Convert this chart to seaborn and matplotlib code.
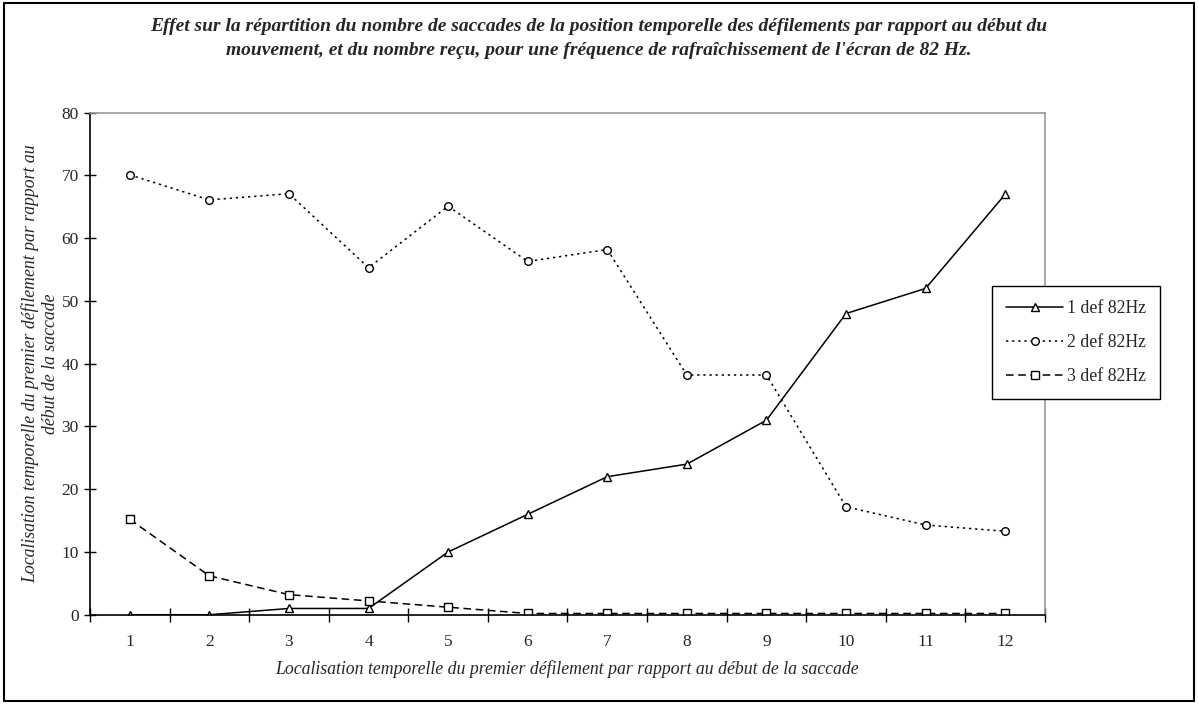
"""
Saccade distribution vs temporal position of the first scroll (82 Hz)
"""

import numpy as np
import pandas as pd
import matplotlib
matplotlib.use("Agg")
import matplotlib.pyplot as plt
from matplotlib.patches import Rectangle
import seaborn as sns

# Data
positions = list(range(1, 13))
one_def = [0, 0, 1, 1, 10, 16, 22, 24, 31, 48, 52, 67]
two_def = [70.1, 66.1, 67.1, 55.3, 65.1, 56.3, 58.2, 38.2, 38.2, 17.2, 14.3, 13.3]
three_def = [15.2, 6.2, 3.2, 2.2, 1.2, 0.2, 0.2, 0.2, 0.2, 0.2, 0.2, 0.2]
series_names = ['1 def 82Hz', '2 def 82Hz', '3 def 82Hz']

title = ("Effet sur la répartition du nombre de saccades de la position temporelle des défilements par rapport au début du\n"
         "mouvement, et du nombre reçu, pour une fréquence de rafraîchissement de l'écran de 82 Hz.")
xlabel = "Localisation temporelle du premier défilement par rapport au début de la saccade"
ylabel = "Localisation temporelle du premier défilement par rapport au\ndébut de la saccade"

sns.set_style("white")
plt.rcParams['font.family'] = ['Liberation Serif', 'DejaVu Serif']

fig = plt.figure(figsize=(11.98, 7.04), dpi=100)
ax = fig.add_axes([0.0751, 0.1268, 0.7972, 0.7131])

styles = [
    dict(linestyle='-', marker='^'),
    dict(linestyle=(0, (1.5, 2.5)), marker='o'),
    dict(linestyle=(0, (5, 3)), marker='s'),
]
for name, values, st in zip(series_names, [one_def, two_def, three_def], styles):
    df = pd.DataFrame({'x': positions, 'y': values})
    sns.lineplot(data=df, x='x', y='y', ax=ax, color='black', linewidth=1.1,
                 markersize=5.5, markerfacecolor='white', markeredgecolor='black',
                 markeredgewidth=1, label=name, **st)

ax.set_xlim(0.5, 12.5)
ax.set_ylim(0, 80)
ax.set_yticks(np.arange(0, 81, 10))
ax.set_xticks(positions)
ax.set_xticks(np.arange(0.5, 12.6, 1), minor=True)
ax.tick_params(axis='x', which='major', bottom=False, length=0, pad=14, labelsize=12.5)
ax.tick_params(axis='x', which='minor', bottom=True, direction='inout', length=10,
               width=1, color='black')
ax.tick_params(axis='y', left=True, direction='inout', length=8, width=1,
               color='black', labelsize=12.5, pad=4)

for side in ['left', 'bottom']:
    ax.spines[side].set_color('black')
    ax.spines[side].set_linewidth(1.2)
for side in ['top', 'right']:
    ax.spines[side].set_color('#999999')
    ax.spines[side].set_linewidth(1.2)

ax.set_xlabel(xlabel, fontstyle='italic', fontsize=12.8, labelpad=7)
ax.set_ylabel(ylabel, fontstyle='italic', fontsize=12.8, labelpad=2)

leg = ax.legend(loc='upper left', bbox_to_anchor=(0.828, 0.594),
                bbox_transform=fig.transFigure, fontsize=12.8, frameon=True,
                fancybox=False, edgecolor='black', borderpad=0.8,
                labelspacing=0.95, handlelength=3.2, handletextpad=0.2,
                borderaxespad=0)
leg.get_frame().set_linewidth(1)
leg.get_frame().set_alpha(1)

fig.text(0.5, 0.945, title, ha='center', va='center', fontsize=14,
         fontweight='bold', fontstyle='italic', linespacing=1.5)

fig.patches.append(Rectangle((0.003, 0.004), 0.994, 0.992, transform=fig.transFigure,
                             fill=False, edgecolor='black', linewidth=1.5))

plt.savefig('out.png', dpi=100)
plt.close()
